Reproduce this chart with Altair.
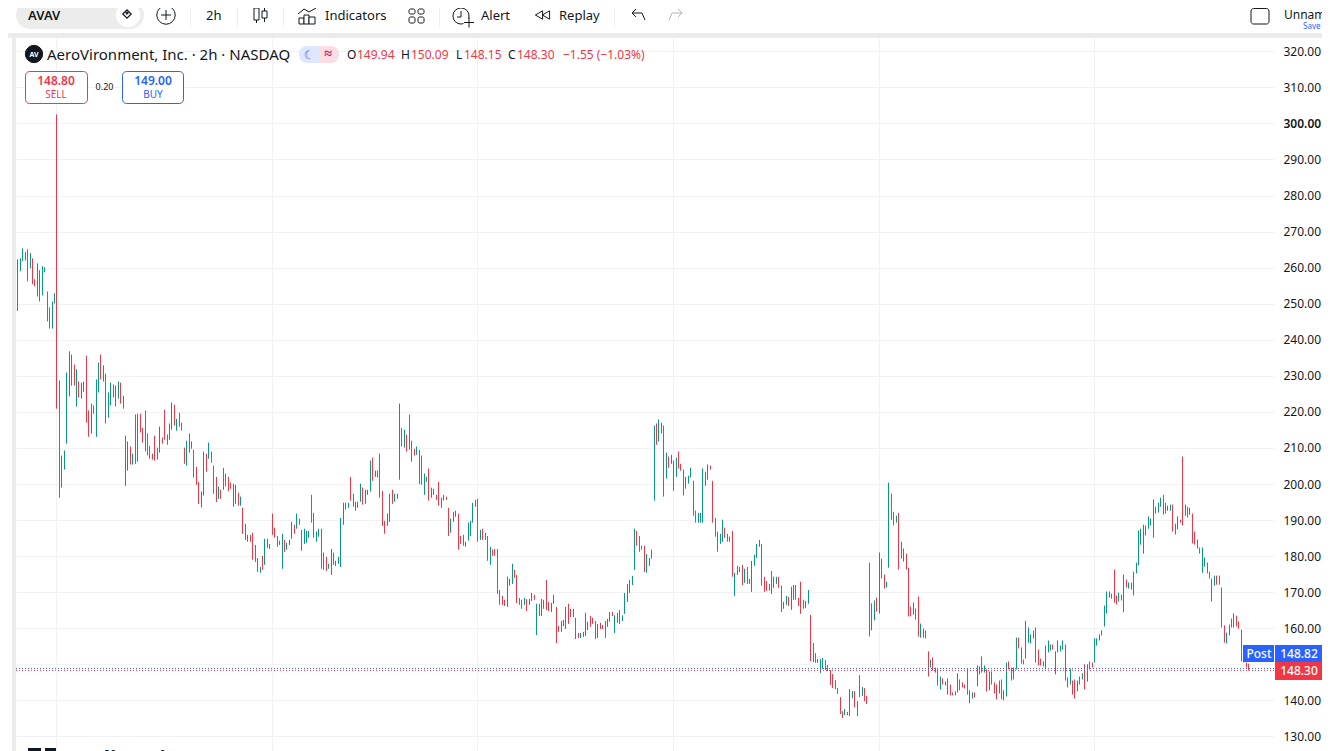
import altair as alt
import pandas as pd

FONT = "Noto Sans"
RED = "#f23645"
GREEN = "#089981"
BLUE = "#2962ff"
INK = "#131722"

high = [262.3,262.6,265.3,264.3,265.1,264,262.6,256.8,261.2,259.3,260.4,260.1,253.4,249,250.6,252.9,302.5,228.7,207.9,209.3,
230.9,236.8,235.9,233.1,231.8,228.4,228.1,228.4,235.6,220.4,222.3,221.8,229,233.7,235.9,232.9,230.6,225.4,228.1,227.6,
227.3,228.4,228.1,224.5,213.4,211.8,210.4,208.4,219.3,219.5,219.5,215.6,220.4,214,210.6,208.4,213.4,210.1,215.9,212.9,
220.6,213.7,216.8,222.6,222,218.1,219.8,217,210.1,212,214,211.8,209.5,204.8,200.6,197.9,209,208.4,211.5,209,
205.1,202,199.3,198.4,204.5,202.9,202,200.4,200.1,199.8,197.6,196.5,193.4,189,185.9,185.9,186.5,183.1,179.5,177,
180.1,184.8,184.8,183.4,191.8,187.9,185.6,184.3,186.2,184.5,183.7,184.5,189.5,188.7,191.8,190.4,187.3,187.6,187,187,
197,192,186.8,187.6,187.6,181,179.8,177.9,182,181,178.7,179.8,190.6,194.8,194.8,194.8,202,197.3,195.1,195.1,
200.1,199,198.4,198.4,206.5,207.3,203.7,203.7,208.4,198.1,189.8,191.8,197.3,198.4,197.3,197.3,222.3,215.6,215.1,213.7,
219.3,212,209.8,210.4,209.5,207.9,202.9,202,204.3,199,198.7,197,200.6,196.2,197,196.5,193.4,190.4,192.3,192.6,
191.8,185.6,185.9,184,189.3,189.8,194.8,195.6,195.9,187.3,187.6,186.5,185.6,182.6,181.8,182,182,170.6,169,167.9,
174.3,173.7,177.9,176.2,174.8,168.4,167.9,168.4,168.1,168.1,169.8,169.3,166.8,166.8,168.1,167.9,173.4,167.3,167,169.3,
165.9,160.6,162,162.3,165.9,166.8,165.4,165.4,162.9,158.7,158.7,159,164.3,161.8,163.4,162.9,162,161.2,161.5,160.9,
162,162.6,164.5,164.5,163.6,164.3,165.1,163.6,169.8,172.3,173.4,174.5,187.6,187,185.6,182.9,182.9,180.6,179.5,181.8,
216.2,216.8,217.9,217,216.2,208.7,207.6,208.1,206.5,207.3,209,205.6,204,202,202.3,204.5,200.9,192.6,192,192,
204.3,203.4,205.4,205.1,200.9,190.6,186.8,186.2,190.1,187.9,186.2,185.4,187,175.4,177.3,177,177.6,176.5,177,173.7,
178.7,180.4,183.4,184.5,183.4,174.3,173.1,172.3,175.9,174.3,174.3,174.3,171.8,167.3,169,168.7,171.5,172,172,168.4,
172.9,167.9,167.6,170.6,163.7,155.9,153.1,151.5,151.5,151.8,151.2,149.8,148.4,147.3,145.6,143.4,140.9,137,137.6,136.8,
143.1,142.6,142.6,139.8,147,143.7,143.4,141.2,178.2,166.9,167.7,168.5,181,179.3,174.9,172.9,200.4,197.3,192.3,191.2,
192,184,182.1,180.7,176.8,166,167.1,165.5,168.8,161.3,159.9,159.4,153.6,151.3,151.9,149.1,148.6,146.6,146.1,145.2,
146.1,144.4,142.2,142.5,147.5,145.8,145,144.4,148.8,142.8,142.2,142.2,149.7,149.4,152.2,149.7,148.6,148,148,145,
144.4,145.5,145.8,142.8,150.5,150.8,149.1,149.1,157.4,157.4,154.7,151.3,162.1,160.2,158.3,159.4,160.2,154.1,151.6,150.8,
155.2,156.6,155.5,155.5,153.6,156.6,155.2,156.6,155.5,146.4,148.8,145.5,145.8,145.5,146.6,147.5,150,150,150.8,150.5,
157.2,157.2,158.3,159.4,166.3,170.2,170.2,169.6,176.3,169.1,169.9,169.3,174.9,173.5,172.7,172.7,175.7,178.2,187.1,187.6,
188.7,188.5,191,190.4,195.7,193.7,194.8,196.2,197,194.8,194,194.3,194.3,189,191,190.1,207.6,194.3,193.7,193.4,
191.8,186.8,184.6,182.4,182.4,179.6,178.2,175.7,173.8,174.6,174.6,174.6,171.3,160.8,158.8,161,162.7,164.1,163.5,161.9,
159.6,151.9,150.5,150.2]

low = [248,259,261.8,262,256.2,259.8,255.4,254.8,252,250.6,252.3,258.7,245.1,243.1,243.1,250.1,220.9,196.2,199,204,
211.2,224.3,227.3,227.3,221.5,224,223.7,225.6,217,213.1,214,219.5,213.1,225.4,229,228.4,216.8,218.4,221.8,224,
221.5,223.7,222.3,220.9,199.5,203.7,205.4,205.4,205.6,206.2,214.3,211.5,209,207.9,207,206.8,206.5,206.8,208.7,211.2,
212.3,210.9,212.3,215.1,216.2,214.8,215.9,214.8,205.6,205.1,208.7,209.8,201.8,199.8,194.5,193.5,196.8,203.4,207,205.9,
197.3,195,195.9,195.9,198.4,199.3,198.1,198.7,193.7,194.5,194,194,186.2,184.5,184,184,179,178.4,175.6,175.4,
176.2,177.6,182.3,182,185.9,185.1,182.6,183.1,176.5,181.2,181.8,183.1,184.8,186.2,187.6,188.7,181.5,183.4,183.7,185.1,
189.3,185.1,184,185.4,176.5,176.2,175.9,176.5,174.8,177.6,177.3,177.9,177,188.7,192.9,193.4,195.4,193.7,192.6,193.4,
195.1,194.3,194.5,197,197.9,200.9,202,201.8,196.2,188.4,186.2,188.4,189.5,194.5,195.1,195.9,201.2,210.4,210.1,209,
209.5,206.2,207.9,208.1,200,199.8,197,200.6,195.4,196.2,197,195.6,194,193.4,195.4,195.6,185.6,186.5,189.5,190.9,
181.8,183.4,182.9,182.6,184.3,185.6,189.3,193.7,184,184.5,184.5,184.5,178.7,177.6,180.1,180.1,169.5,166.5,166.5,166.2,
165.9,171.8,172.3,174,167,166.5,165.4,166.5,164.8,166.5,167.6,167.9,158.1,163.4,163.4,165.4,165.1,164.8,164.5,166.8,
155.9,159,159,160.6,159.8,161.2,163.1,163.1,157,157.3,157.3,157.6,157.9,159.5,160.4,161.2,157,157.3,159.8,159.8,
157.3,160.4,161.8,163.4,158.7,161.5,161.2,162,164,167.3,169.8,172,176.2,182.9,181.2,181.8,175.6,175.4,177.3,179.3,
195.4,210.9,211.8,214,196.5,201.5,204.5,205.6,198.1,202,204.3,203.7,196.8,198.7,200.1,201.8,191.2,189.3,189.3,189.3,
189.3,199.5,201.2,204,189.3,185.4,181.2,183.4,184,185.1,184,184,174.3,169,174.8,175.6,172,172.6,172.3,172.3,
170.1,177.3,179.5,182.6,171.8,170.1,170.4,170.4,169.5,171.2,172.3,171.2,164.5,165.4,166.5,166.2,165.1,167.9,167.9,166.2,
164,165.4,165.6,166.8,150.9,150.6,150.4,150.4,147.6,148.7,148.4,148.1,144.3,143.4,143.1,141.8,136.2,135.1,135.9,135.9,
135.6,140.6,138.1,135.6,140.9,141.2,139.8,139,157.7,159.4,162.2,164.6,164.1,173.8,171,171.3,176.8,190.1,188.5,189.3,
176.3,179.3,178.5,176.3,163.3,163.3,163.8,162.4,157.7,157.4,157.4,157.2,146.6,149.1,148.3,147.7,144.1,143,144.4,144.1,
141.6,141.4,141.4,141.4,142.2,142.8,143.6,143.3,141.6,139.2,140.5,140.8,143.9,147.2,147.7,147.7,142.5,142.8,144.4,141.9,
140.3,141.9,140.3,140,141.1,148.6,145.5,145.8,148.6,154.4,150.2,150,151.6,156,155.8,157.2,150.5,149.7,149.7,149.4,
148.6,153.3,153.8,154.1,147.2,153.3,153.6,154.1,145.5,143.6,144.4,141.6,140.5,142.5,144.4,145.8,143,145.2,148.6,149.1,
150.5,155.2,156.6,158,160.5,164.1,168.5,168.2,167.1,166.6,167.4,167.7,164.4,171.3,171,170.7,169.1,175.2,177.4,183.2,
180.7,185.7,187.6,188.5,185.1,191.8,192.1,193.7,191.5,191.8,192.6,192.6,186.8,186,187.4,189.3,188.5,191.2,190.7,191.5,
183.5,183.2,182.1,180.7,175.4,177.1,175.2,173.8,167.4,171.8,172.1,172.1,160.2,156,155.8,158,160.2,160.2,160.5,159.9,
150.8,150.5,149.1,148.3]

# bar numbers drawn in red; all the others are green
red_bars = [4,5,7,8,10,13,14,17,18,23,24,26,29,30,32,35,37,40,43,44,47,49,51,52,53,54,55,56,57,58,60,61,62,65,67,68,69,73,74,75,78,80,81,82,84,85,86,87,88,91,93,94,96,97,98,99,
101,105,106,107,108,110,114,116,117,121,122,125,126,127,130,135,137,138,140,142,146,148,149,150,151,154,158,160,161,162,163,165,166,169,171,172,173,176,177,181,182,183,189,191,192,193,195,196,197,198,199,200,
204,205,206,207,209,212,214,216,217,218,221,222,226,227,229,230,235,236,237,239,240,241,244,246,247,254,255,256,257,259,262,264,265,267,269,271,272,273,277,278,282,284,285,286,287,290,291,293,297,299,305,306,307,308,309,312,313,316,319,320,321,322,
325,326,327,331,332,333,334,335,336,337,338,343,344,345,347,348,349,352,354,355,358,359,361,362,364,365,366,368,369,372,373,375,377,379,380,381,382,383,386,387,388,389,390,392,394,395,397,399,400,401,403,406,407,410,411,412,417,418,419,420,424,429,430,432,433,437,439,440,
447,448,449,450,452,454,456,469,473,476,477,479,481,482,483,484,487,488,489,491,492,493,494,497,499,500,501,502,503,504]
side = ["R" if i in set(red_bars) else "G" for i in range(1, len(high) + 1)]

month_bars = [17, 105, 189, 269, 353, 441]
price_ticks = list(range(130, 330, 10))
bid = [148.82]
last = [148.30]

bars = pd.DataFrame({"bar": list(range(1, len(high) + 1)), "high": high, "low": low, "side": side})

W, H = 1258, 713
OX, OY = 16, 38          # plot origin in window pixels
one = pd.DataFrame({"a": [0]})

def px(v):
    return alt.value(v - OX)
def py(v):
    return alt.value(v - OY)

def label(t, x, y, size=12, color=INK, weight="normal", align="left", font=FONT):
    return alt.Chart(pd.DataFrame({"t": [t]})).mark_text(
        fontSize=size, color=color, fontWeight=weight, align=align, baseline="middle", font=font
    ).encode(x=px(x), y=py(y), text="t:N")

def box(x0, x1, y0, y1, fill="transparent", stroke=None, radius=0, sw=1):
    kw = dict(fill=fill, cornerRadius=radius)
    if stroke:
        kw.update(stroke=stroke, strokeWidth=sw)
    return alt.Chart(one).mark_rect(**kw).encode(x=px(x0), x2=px(x1), y=py(y0), y2=py(y1))

def seg(x0, y0, x1, y1, color=INK, sw=1):
    return alt.Chart(one).mark_rule(color=color, strokeWidth=sw).encode(x=px(x0), x2=px(x1), y=py(y0), y2=py(y1))

def dot(x, y, size, shape="circle", fill=None, stroke=INK, sw=1):
    kw = dict(shape=shape, size=size, strokeWidth=sw, stroke=stroke, opacity=1)
    if fill:
        kw.update(filled=True, fill=fill)
    else:
        kw.update(filled=False)
    return alt.Chart(one).mark_point(**kw).encode(x=px(x), y=py(y))

x_scale = alt.Scale(domain=[0.469, 514.56], round=True, nice=False, zero=False)
y_scale = alt.Scale(domain=[125.96, 323.69], nice=False, zero=False)

y_axis = alt.Axis(orient="right", values=price_ticks, grid=True, gridColor="#f1f2f4",
                  gridWidth=1, ticks=False, tickSize=0, domain=False, title=None, labelPadding=9,
                  labelFontSize=12, labelColor=INK, labelFont=FONT, labelAlign="left", labelOverlap=False,
                  labelExpr="datum.value == 150 ? '' : format(datum.value, '.2f')",
                  labelFontWeight={"condition": {"test": "datum.value == 300", "value": 600}, "value": 400})

candles = alt.Chart(bars).mark_rule(strokeWidth=1, xOffset=0.5).encode(
    x=alt.X("bar:Q", scale=x_scale,
            axis=alt.Axis(values=month_bars, grid=True, gridColor="#f1f2f4", gridWidth=1, labels=False,
                          ticks=False, domain=False, title=None)),
    y=alt.Y("low:Q", scale=y_scale, axis=y_axis),
    y2="high:Q",
    color=alt.Color("side:N", scale=alt.Scale(domain=["R", "G"], range=[RED, GREEN]), legend=None),
)

def dotted(values, color):
    return alt.Chart(pd.DataFrame({"p": values})).mark_rule(color=color, strokeWidth=1, strokeDash=[1, 2]).encode(
        y=alt.Y("p:Q", scale=y_scale, axis=y_axis), x=alt.value(0), x2=alt.value(W))

layers = [
    candles, dotted(bid, BLUE), dotted(last, RED),
    # pane frame
    box(0, 1330, 33, 38, fill="#ebebeb"), box(12, 16, 38, 751, fill="#ebebeb"),
    # toolbar
    box(16, 144, 1, 29, fill="#ececec", radius=14),
    label("AVAV", 28, 16, size=13, weight=600),
    dot(128, 15, 560, fill="#ffffff", stroke="#ffffff"),
    dot(127, 14, 70, shape="diamond", sw=1.2), dot(127, 13, 8, shape="diamond", fill=INK),
    dot(166, 15, 340), seg(161, 15, 171, 15), seg(166, 10, 166, 20),
    label("2h", 206, 16, size=13),
    seg(190.5, 4, 190.5, 27, color="#eceef1"), seg(237.5, 4, 237.5, 27, color="#eceef1"), seg(283.5, 4, 283.5, 27, color="#eceef1"),
    seg(439.5, 4, 439.5, 27, color="#eceef1"), seg(614.5, 4, 614.5, 27, color="#eceef1"),
    seg(256.5, 5, 256.5, 23), seg(264.5, 8, 264.5, 22),
    box(254, 259, 8, 20, fill="#ffffff", stroke=INK), box(262, 267, 11, 18, fill="#ffffff", stroke=INK),
    box(299, 304, 18, 24, fill="#ffffff", stroke=INK), box(304, 309, 15, 24, fill="#ffffff", stroke=INK), box(309, 315, 17, 24, fill="#ffffff", stroke=INK),
    seg(298, 14, 304, 9), seg(304, 9, 309, 12), seg(309, 12, 316, 8),
    label("Indicators", 325, 16, size=13),
    box(409, 415, 9, 14, stroke=INK, radius=1.5), box(418, 424, 9, 14, stroke=INK, radius=1.5),
    box(409, 415, 17, 23, stroke=INK, radius=1.5), box(418, 424, 17, 23, stroke=INK, radius=1.5),
    dot(461, 16, 260), seg(461, 11, 461, 17), seg(461, 17, 457, 17),
    box(464, 474, 19, 26, fill="#ffffff", stroke="#ffffff"),
    seg(464, 22.5, 474, 22.5), seg(469, 17.5, 469, 27.5),
    label("Alert", 481, 16, size=13),
    dot(539, 15, 70, shape="triangle-left"), dot(546, 15, 70, shape="triangle-left"),
    label("Replay", 559, 16, size=13),
    seg(632, 13, 642, 13), seg(632, 13, 636, 9), seg(632, 13, 636, 17), seg(642, 13, 645, 20),
    seg(672, 13, 682, 13, color="#b2b5be"), seg(682, 13, 678, 9, color="#b2b5be"), seg(682, 13, 678, 17, color="#b2b5be"), seg(672, 13, 669, 20, color="#b2b5be"),
    box(1251, 1269, 8.5, 24, stroke=INK, radius=2.5),
    label("Unnamed", 1284, 14.5, size=12),
    label("Save", 1303, 27, size=8, color=BLUE),
    # legend line
    dot(34, 54, 300, fill="#131722"),
    label("AV", 34, 54.5, size=7, color="#ffffff", weight="bold", align="center"),
    label("AeroVironment, Inc. · 2h · NASDAQ", 47, 54.5, size=15),
    box(299, 319, 46, 63, fill="#dfe7ff", radius=8), box(319, 339, 46, 63, fill="#fbdde3", radius=8), box(314, 324, 46, 63, fill="#fbdde3"),
    box(309, 319, 46, 63, fill="#dfe7ff"),
    label("☾", 309, 54.5, size=12, color=BLUE, weight="bold", align="center", font="DejaVu Sans"),
    label("≈", 328, 54, size=14, color="#c2185b", weight="bold", align="center"),
    label("O", 347, 55, size=12), label("149.94", 357, 55, size=12, color=RED),
    label("H", 401, 55, size=12), label("150.09", 411, 55, size=12, color=RED),
    label("L", 456, 55, size=12), label("148.15", 464, 55, size=12, color=RED),
    label("C", 508, 55, size=12), label("148.30", 517, 55, size=12, color=RED),
    label("−1.55 (−1.03%)", 563, 55, size=12, color=RED),
    # sell and buy boxes
    box(25.5, 87.5, 71.5, 103.5, fill="#ffffff", stroke=RED, radius=4),
    label("148.80", 56, 80.5, size=12, color=RED, weight=600, align="center"),
    label("SELL", 56, 94.5, size=10, color=RED, align="center"),
    label("0.20", 104.5, 87, size=9, align="center"),
    box(122.5, 183.5, 71.5, 103.5, fill="#ffffff", stroke=BLUE, radius=4),
    label("149.00", 153, 80.5, size=12, color=BLUE, weight=600, align="center"),
    label("BUY", 153, 94.5, size=10, color=BLUE, align="center"),
    # price tags
    box(1243, 1274, 645, 662, fill=BLUE),
    label("Post", 1259, 654, size=12, color="#ffffff", weight=500, align="center"),
    box(1275, 1324, 645, 662, fill=BLUE),
    label("148.82", 1299, 654, size=12, color="#ffffff", weight=500, align="center"),
    box(1275, 1324, 662, 680, fill=RED),
    label("148.30", 1299, 671, size=12, color="#ffffff", weight=500, align="center"),
    # cut-off watermark
    box(28, 41, 748, 751, fill=INK), box(45, 56, 748, 751, fill=INK),
    label("TradingView", 62, 758.5, size=22, weight="bold"),
]

chart = alt.layer(*layers, data=one).properties(
    width=W, height=H, padding={"left": 8, "top": 30, "right": 48, "bottom": 0},
    autosize=alt.AutoSizeParams(type="none"), background="#ffffff",
).resolve_scale(x="shared", y="shared").configure_view(stroke=None)

chart.save("out.html", embed_options={"renderer": "svg", "actions": False})
